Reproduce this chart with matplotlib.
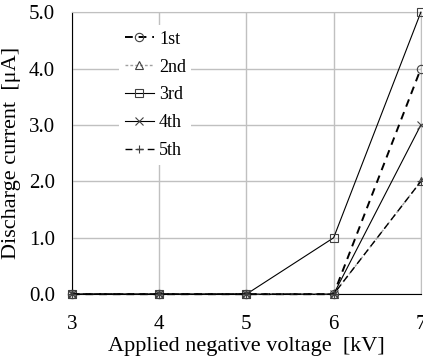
import matplotlib
matplotlib.use('Agg')
import matplotlib.pyplot as plt

voltage = [3, 4, 5, 6, 7]
run_labels = ['1st', '2nd', '3rd', '4th', '5th']
current_1st = [0.0, 0.0, 0.0, 0.0, 4.0]
current_2nd = [0.0, 0.0, 0.0, 0.0, 2.0]
current_3rd = [0.0, 0.0, 0.0, 1.0, 5.0]
current_4th = [0.0, 0.0, 0.0, 0.0, 3.0]
current_5th = [0.0, 0.0, 0.0, 0.0, 2.0]

plt.rcParams['font.family'] = ['Liberation Serif', 'DejaVu Serif']

fig = plt.figure(figsize=(4.23, 3.57), dpi=100)
ax = fig.add_axes([0.170, 0.176, 0.825, 0.790])

styles = [
    dict(ls=(0, (4, 3)), lw=1.4, color='black', marker='o'),
    dict(ls=(0, (2, 1.5)), lw=1.0, color='#a0a0a0', marker='^'),
    dict(ls='-', lw=0.8, color='black', marker='s'),
    dict(ls='-', lw=0.8, color='black', marker='x'),
    dict(ls=(0, (5, 3)), lw=1.0, color='black', marker='+'),
]
series = [current_1st, current_2nd, current_3rd, current_4th, current_5th]
for lab, vals, st in zip(run_labels, series, styles):
    ax.plot(voltage, vals, label=lab, linestyle=st['ls'], linewidth=st['lw'],
            color=st['color'], marker=st['marker'], markersize=6,
            markerfacecolor='none', markeredgecolor='#404040',
            markeredgewidth=0.8, clip_on=False, zorder=3)

ax.set_xlim(3, 7)
ax.set_ylim(0, 5)
ax.set_xticks(voltage)
ax.set_yticks([0, 1, 2, 3, 4, 5])
ax.set_yticklabels([f'{v:.1f}' for v in [0, 1, 2, 3, 4, 5]])
ax.grid(True, color='#c0c0c0', linewidth=1.0)
ax.set_axisbelow(True)
for s in ['top', 'right']:
    ax.spines[s].set_color('#c0c0c0')
ax.spines['left'].set_color('black')
ax.spines['bottom'].set_color('black')
ax.tick_params(length=0, labelsize=15)
ax.tick_params(axis='x', pad=15)
ax.tick_params(axis='y', pad=12)

ax.set_xlabel('Applied negative voltage  [kV]', fontsize=16, labelpad=2)
ax.set_ylabel('Discharge current  [\u03bcA]', fontsize=16, labelpad=6)

leg = ax.legend(loc='upper left', bbox_to_anchor=(0.11, 0.985), frameon=True,
                fontsize=13, handlelength=1.6, labelspacing=0.6,
                handletextpad=0.3, borderpad=0.3, fancybox=False)
leg.get_frame().set_edgecolor('none')
leg.get_frame().set_facecolor('white')
leg.get_frame().set_alpha(1.0)

fig.savefig('out.png', dpi=100)
